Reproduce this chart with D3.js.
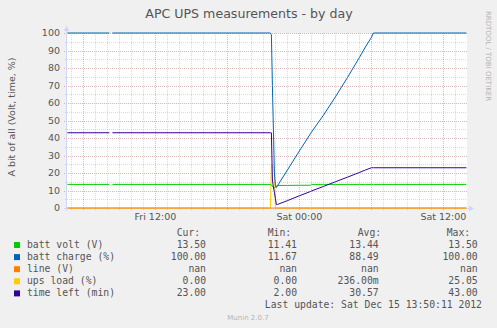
<!DOCTYPE html>
<html><head><meta charset="utf-8">
<script src="https://cdn.jsdelivr.net/npm/d3@7"></script>
<style>
html,body{margin:0;padding:0;background:#F0F0F0;}
svg{display:block;}
text{font-family:"DejaVu Sans",sans-serif;fill:#555;}
.mono{font-family:"DejaVu Sans Mono",monospace;}
</style></head><body>
<script>
// ---------------- data ----------------
const times = ["12-14 04:40","12-14 08:10","12-14 08:15","12-14 08:20","12-14 08:25","12-14 21:35","12-14 21:40","12-14 21:45","12-14 21:50","12-14 21:55","12-14 22:00","12-14 22:05","12-14 22:10","12-14 23:00","12-15 00:00","12-15 00:55","12-15 01:00","12-15 02:00","12-15 03:00","12-15 04:00","12-15 05:00","12-15 05:30","12-15 06:00","12-15 06:10","12-15 13:55"];
const battVolt   = [13.5,13.5,null,null,13.5,13.5,13.2,12.4,11.8,11.41,12.0,12.7,12.9,12.9,13.0,13.0,13.5,13.5,13.5,13.5,13.5,13.5,13.5,13.5,13.5];
const battCharge = [100,100,null,null,100,100,99,70,45,20,13,11.67,12.6,21.7,32.6,42.4,43.3,53,63.5,74.5,86,92,97.5,100,100];
const lineV      = [0,0,0,0,0,0,0,0,0,0,0,0,0,0,0,0,0,0,0,0,0,0,0,0,0];
const upsLoad    = [0,0,0,0,0,0,25.05,24,23.5,23,0,0,0,0,0,0,0,0,0,0,0,0,0,0,0];
const timeLeft   = [43,43,null,null,43,43,43,16,12,9,5.5,2,2,4.2,7,9.4,9.7,12.3,15,17.6,20.3,21.7,23,23,23];

const seriesNames  = ["batt volt (V)","batt charge (%)","line (V)","ups load (%)","time left (min)"];
const seriesColors = ["#00CC00","#0066B3","#FF8000","#FFCC00","#330099"];
const curVals = ["13.50","100.00","nan","0.00","23.00"];
const minVals = ["11.41","11.67","nan","0.00","2.00"];
const avgVals = ["13.44","88.49","nan","236.00m","30.57"];
const maxVals = ["13.50","100.00","nan","25.05","43.00"];
const yTicks = [0,10,20,30,40,50,60,70,80,90,100];
const xTickLabels = ["Fri 12:00","Sat 00:00","Sat 12:00"];
const xTickTimes = ["12-14 12:00","12-15 00:00","12-15 12:00"];
const domainTimes = ["12-14 04:38","12-15 13:58"];

// ---------------- chart ----------------
const W=497,H=328;
const parse = d3.timeParse("%Y-%m-%d %H:%M");
const pt = s => parse("2012-"+s);
const L=67,R=467,T=33,B=208;
const x = d3.scaleTime().domain(domainTimes.map(pt)).range([L,R]);
const y = d3.scaleLinear().domain([0,100]).range([B,T]);

const svg = d3.select("body").append("svg").attr("width",W).attr("height",H);
svg.append("rect").attr("width",W).attr("height",H).attr("fill","#F0F0F0");
svg.append("rect").attr("x",L).attr("y",T).attr("width",R-L).attr("height",B-T).attr("fill","#FFFFFF");

const g = svg.append("g");
// grid
const hours = d3.timeHour.every(1).range(x.domain()[0], x.domain()[1]);
const isMajor = d => d.getHours()%6===0;
g.selectAll(".vmin").data(hours.filter(d=>!isMajor(d))).enter().append("line")
 .attr("x1",d=>Math.round(x(d))+0.5).attr("x2",d=>Math.round(x(d))+0.5)
 .attr("y1",T).attr("y2",B+2).attr("stroke","rgba(140,140,140,0.32)").attr("stroke-dasharray","1,1").attr("shape-rendering","crispEdges");
const minorY = d3.range(5,100,10);
g.selectAll(".hmin").data(minorY).enter().append("line")
 .attr("x1",L-2).attr("x2",R).attr("y1",d=>Math.round(y(d))+0.5).attr("y2",d=>Math.round(y(d))+0.5)
 .attr("stroke","rgba(140,140,140,0.32)").attr("stroke-dasharray","1,1").attr("shape-rendering","crispEdges");
g.selectAll(".vmaj").data(hours.filter(isMajor)).enter().append("line")
 .attr("x1",d=>Math.round(x(d))+0.5).attr("x2",d=>Math.round(x(d))+0.5)
 .attr("y1",T).attr("y2",B+3).attr("stroke","rgba(150,40,40,0.32)").attr("stroke-dasharray","1,1").attr("shape-rendering","crispEdges");
g.selectAll(".hmaj").data(yTicks).enter().append("line")
 .attr("x1",L-3).attr("x2",R).attr("y1",d=>Math.round(y(d))+0.5).attr("y2",d=>Math.round(y(d))+0.5)
 .attr("stroke","rgba(150,40,40,0.32)").attr("stroke-dasharray","1,1").attr("shape-rendering","crispEdges");

// axes
const axisCol="#CFD6F8";
svg.append("line").attr("x1",L-0.5).attr("x2",L-0.5).attr("y1",B+3).attr("y2",T-3).attr("stroke",axisCol);
svg.append("path").attr("d",`M${L-3.5},${T-2} L${L+2.5},${T-2} L${L-0.5},${T-7} Z`).attr("fill",axisCol);
svg.append("line").attr("x1",L-3).attr("x2",R+3).attr("y1",B+0.5).attr("y2",B+0.5).attr("stroke",axisCol);
svg.append("path").attr("d",`M${R+2},${B-2.5} L${R+2},${B+3.5} L${R+7},${B+0.5} Z`).attr("fill",axisCol);

// tick labels
svg.selectAll(".yt").data(yTicks).enter().append("text")
 .attr("x",60).attr("y",d=>y(d)).attr("dy","0.35em").attr("text-anchor","end")
 .attr("font-size","9.5px").text(d=>d);
svg.selectAll(".xt").data(xTickLabels).enter().append("text")
 .attr("x",(d,i)=>x(pt(xTickTimes[i]))).attr("y",217).attr("dy","0.35em").attr("text-anchor","middle")
 .attr("font-size","9.5px").text(d=>d);

// series lines
const tp = times.map(pt);
const allSeries = [battVolt,battCharge,lineV,upsLoad,timeLeft];
const drawOrder = [3,0,1,2,4];
const lineGen = d3.line().defined(d=>d[1]!==null).x(d=>x(d[0])).y(d=>y(d[1]));
drawOrder.forEach(i=>{
  const data = tp.map((t,k)=>[t,allSeries[i][k]]);
  svg.append("path").attr("d",lineGen(data)).attr("fill","none")
   .attr("stroke",seriesColors[i]).attr("stroke-width",1);
});

// title & labels
svg.append("text").attr("x",249).attr("y",14).attr("dy","0.35em").attr("text-anchor","middle")
 .attr("font-size","12.6px").text("APC UPS measurements - by day");
svg.append("text").attr("transform","translate(11.5,117) rotate(-90)").attr("dy","0.35em")
 .attr("text-anchor","middle").attr("font-size","9.5px").text("A bit of all (Volt, time, %)");
svg.append("text").attr("transform","translate(488,56) rotate(90)").attr("dy","0.35em")
 .attr("text-anchor","middle").attr("font-size","7px").style("fill","#B4B4B4").text("RRDTOOL / TOBI OETIKER");

// legend
const fs="9.75px";
const rowY=[244.5,256.6,268.7,280.8,292.9];
const hdrY=233;
[["Cur:",176.7],["Min:",267.7],["Avg:",357.7],["Max:",446.7]].forEach(h=>{
  svg.append("text").attr("class","mono").attr("x",h[1]).attr("y",hdrY).attr("dy","0.35em")
   .attr("font-size",fs).text(h[0]);
});
seriesNames.forEach((n,i)=>{
  svg.append("rect").attr("x",14).attr("y",rowY[i]-2.5).attr("width",6).attr("height",6).attr("fill",seriesColors[i]);
  svg.append("text").attr("class","mono").attr("x",27).attr("y",rowY[i]).attr("dy","0.35em").attr("font-size",fs).text(n);
  [[curVals,206],[minVals,297],[avgVals,378.7],[maxVals,477.7]].forEach(c=>{
    svg.append("text").attr("class","mono").attr("x",c[1]).attr("y",rowY[i]).attr("dy","0.35em")
     .attr("text-anchor","end").attr("font-size",fs).text(c[0][i]);
  });
});
svg.append("text").attr("class","mono").attr("x",482).attr("y",305).attr("dy","0.35em")
 .attr("text-anchor","end").attr("font-size",fs).text("Last update: Sat Dec 15 13:50:11 2012");
svg.append("text").attr("x",248).attr("y",317.5).attr("dy","0.35em").attr("text-anchor","middle")
 .attr("font-size","7px").style("fill","#B4B4B4").text("Munin 2.0.7");
</script>
</body></html>
